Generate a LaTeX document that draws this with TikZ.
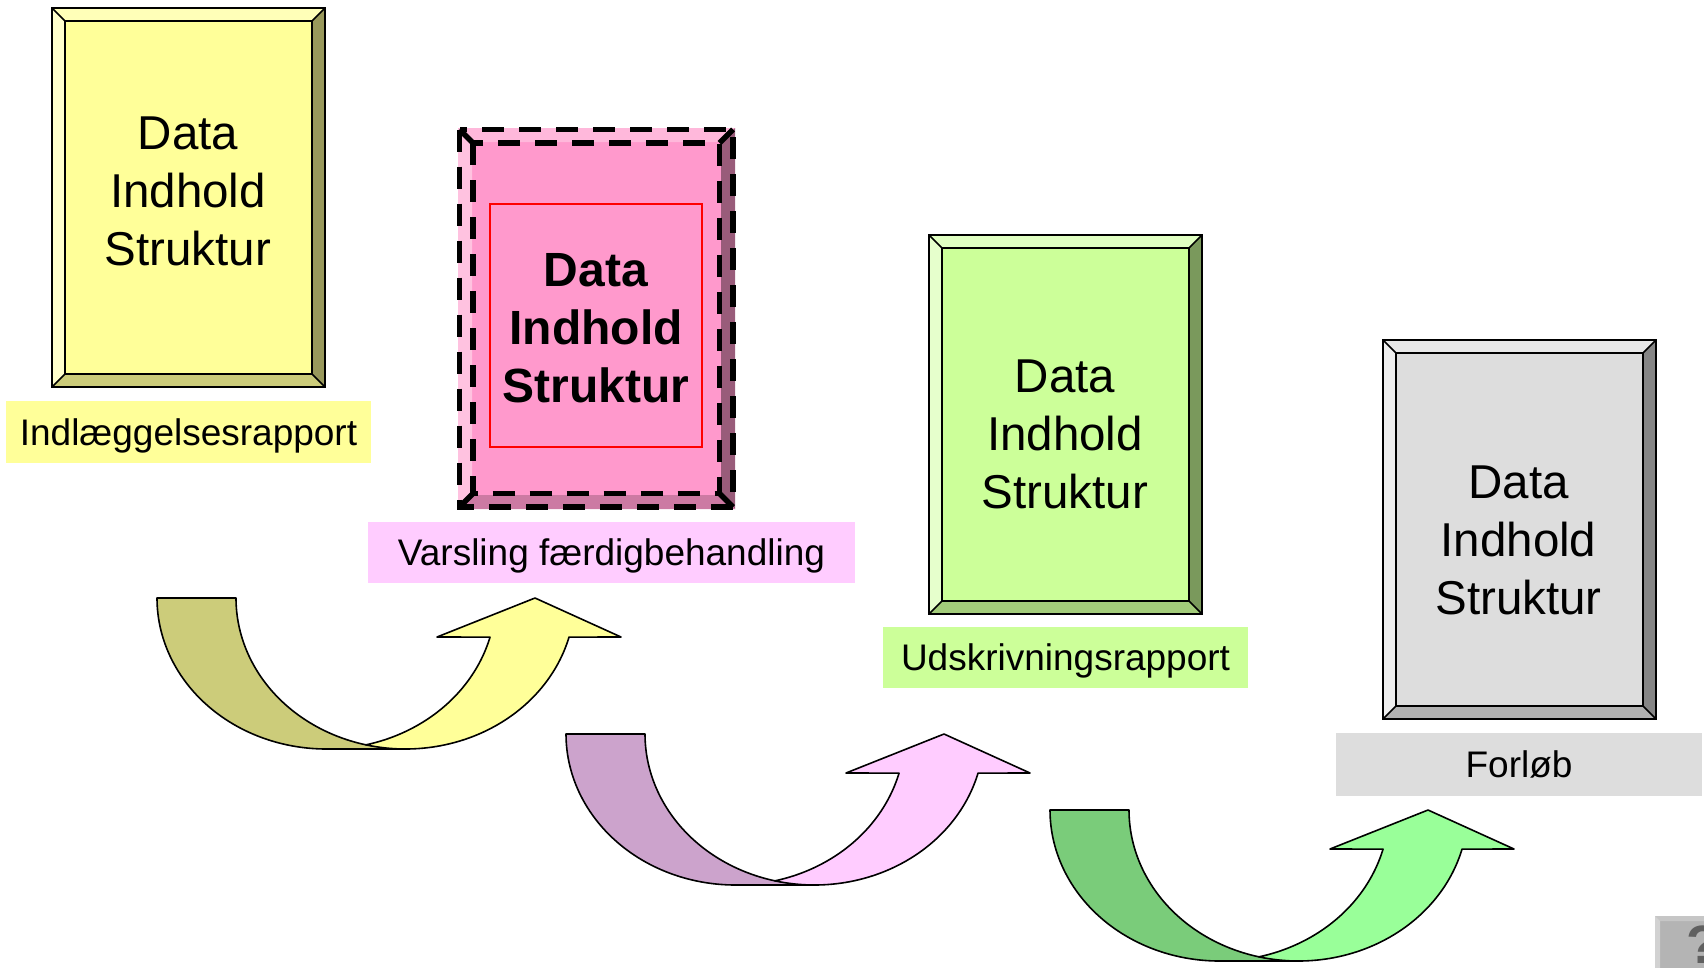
\documentclass[tikz,border=0pt]{standalone}
\usepackage{fontspec}
\setmainfont{Liberation Sans}
\definecolor{ymain}{HTML}{FFFF99}
\definecolor{ytop}{HTML}{FFFFB8}
\definecolor{yleft}{HTML}{FFFFCC}
\definecolor{yright}{HTML}{99995C}
\definecolor{ybot}{HTML}{CCCC7A}
\definecolor{pmain}{HTML}{FF99CC}
\definecolor{ptop}{HTML}{FFB8DB}
\definecolor{pleft}{HTML}{FFC2E0}
\definecolor{pright}{HTML}{995C7A}
\definecolor{pbot}{HTML}{CC7AA3}
\definecolor{gmain}{HTML}{CCFF99}
\definecolor{gtop}{HTML}{E0FFC2}
\definecolor{gleft}{HTML}{E6FFCC}
\definecolor{gright}{HTML}{7A995C}
\definecolor{gbot}{HTML}{A3CC7A}
\definecolor{kmain}{HTML}{DDDDDD}
\definecolor{ktop}{HTML}{E8E8E8}
\definecolor{kleft}{HTML}{EEEEEE}
\definecolor{kright}{HTML}{858585}
\definecolor{kbot}{HTML}{B1B1B1}
\definecolor{lpink}{HTML}{FFCCFF}
\definecolor{a1dark}{HTML}{CCCC7A}
\definecolor{a1light}{HTML}{FFFF99}
\definecolor{a2dark}{HTML}{CCA3CC}
\definecolor{a2light}{HTML}{FFCCFF}
\definecolor{a3dark}{HTML}{7ACC7A}
\definecolor{a3light}{HTML}{99FF99}
\definecolor{qmain}{HTML}{B4B4B4}
\definecolor{qtop}{HTML}{C6C6C6}
\definecolor{qleft}{HTML}{D2D2D2}
\definecolor{qmark}{HTML}{606060}
\newcommand\bvbox[6]{%
  \fill[#6main] (#1,#2) rectangle (#3,#4);
  \fill[#6top] (#1,#2) -- (#3,#2) -- ({#3-#5},{#2+#5}) -- ({#1+#5},{#2+#5}) -- cycle;
  \fill[#6left] (#1,#2) -- ({#1+#5},{#2+#5}) -- ({#1+#5},{#4-#5}) -- (#1,#4) -- cycle;
  \fill[#6right] (#3,#2) -- (#3,#4) -- ({#3-#5},{#4-#5}) -- ({#3-#5},{#2+#5}) -- cycle;
  \fill[#6bot] (#1,#4) -- (#3,#4) -- ({#3-#5},{#4-#5}) -- ({#1+#5},{#4-#5}) -- cycle;
}
\newcommand\bvlines[7]{%
  \draw[#1] (#3,#4) rectangle (#5,#6);
  \draw[#1] ({#3+#7},{#4+#7}) rectangle ({#5-#7},{#6-#7});
  \draw[#2] (#3,#4) -- ({#3+#7},{#4+#7});
  \draw[#2] (#5,#4) -- ({#5-#7},{#4+#7});
  \draw[#2] (#3,#6) -- ({#3+#7},{#6-#7});
  \draw[#2] (#5,#6) -- ({#5-#7},{#6-#7});
}
\newcommand\uarrow[4]{%
  \begin{scope}[shift={(#1,#2)}]
    \draw[arrowline, fill=#3]
      plot[domain=180:90, samples=60] ({326.4+169.4*cos(\x)},{598+151*sin(\x)})
      -- (405.4,749) -- (366,744.8)
      -- plot[domain=103.45:180, samples=60] ({405.4+169.4*cos(\x)},{598+151*sin(\x)})
      -- cycle;
    \draw[arrowline, fill=#4]
      plot[domain=103.45:15, samples=60] ({405.4+169.4*cos(\x)},{598+151*sin(\x)})
      -- (621,637) -- (535,598) -- (437,637)
      -- plot[domain=15:76.5, samples=60] ({326.4+169.4*cos(\x)},{598+151*sin(\x)})
      -- cycle;
  \end{scope}}
\begin{document}
\begin{tikzpicture}[x=1pt, y=-1pt,
  thinline/.style={black, line width=1.5pt},
  dashline/.style={black, line width=5.5pt, dash pattern=on 22pt off 15pt},
  diagline/.style={black, line width=5.5pt},
  arrowline/.style={black, line width=1.6pt, line join=round},
  boxtxt/.style={align=center, inner sep=0pt, font=\fontsize{47.5}{58}\selectfont},
  lbl/.style={inner sep=0pt, text height=26.5pt, text depth=0pt, font=\fontsize{37}{44}\selectfont}]
\useasboundingbox (0,0) rectangle (1704,967);
\clip (0,0) rectangle (1704,967);
\fill[white] (0,0) rectangle (1704,967);

% box 1
\bvbox{52}{8}{325}{387}{13}{y}
\bvlines{thinline}{thinline}{52}{8}{325}{387}{13}
\node[boxtxt] (t1) at (188,191) {Data\\Indhold\\Struktur};
\node[lbl, fill=ymain, minimum width=365pt, minimum height=62pt] (lab1) at (188.5,432) {Indlæggelsesrapport};

% box 2 (pink, dashed)
\bvbox{458}{128}{735}{509}{14}{p}
\draw[red, line width=1.8pt] (490,204) rectangle (702,447);
\bvlines{dashline}{diagline}{459.5}{129.5}{733}{507}{13.5}
\node[boxtxt, font=\fontsize{48}{58}\selectfont\bfseries] (t2) at (596,328) {Data\\Indhold\\Struktur};
\node[lbl, fill=lpink, minimum width=487pt, minimum height=61pt] (lab2) at (611.5,552.5) {Varsling færdigbehandling};

% box 3
\bvbox{929}{235}{1202}{614}{13}{g}
\bvlines{thinline}{thinline}{929}{235}{1202}{614}{13}
\node[boxtxt] (t3) at (1065,434) {Data\\Indhold\\Struktur};
\node[lbl, fill=gmain, minimum width=365pt, minimum height=61pt] (lab3) at (1065.5,657.5) {Udskrivningsrapport};

% box 4
\bvbox{1383}{340}{1656}{719}{13}{k}
\bvlines{thinline}{thinline}{1383}{340}{1656}{719}{13}
\node[boxtxt] (t4) at (1518.5,540) {Data\\Indhold\\Struktur};
\node[lbl, fill=kmain, minimum width=366pt, minimum height=63pt] (lab4) at (1519,764.5) {Forløb};

% curved arrows
\uarrow{0}{0}{a1dark}{a1light}
\uarrow{409}{136}{a2dark}{a2light}
\uarrow{893}{212}{a3dark}{a3light}

% help button (cut off at the corner, as in the original)
\fill[qmain] (1655,916) rectangle (1730,990);
\fill[qtop] (1655,916) -- (1730,916) -- (1725,921) -- (1660,921) -- cycle;
\fill[qleft] (1655,916) -- (1660,921) -- (1660,990) -- (1655,990) -- cycle;
\node[anchor=north west, inner sep=0pt, text=qmark, font=\fontsize{54}{60}\selectfont\bfseries] (help) at (1686,926) {?};
\end{tikzpicture}
\end{document}
